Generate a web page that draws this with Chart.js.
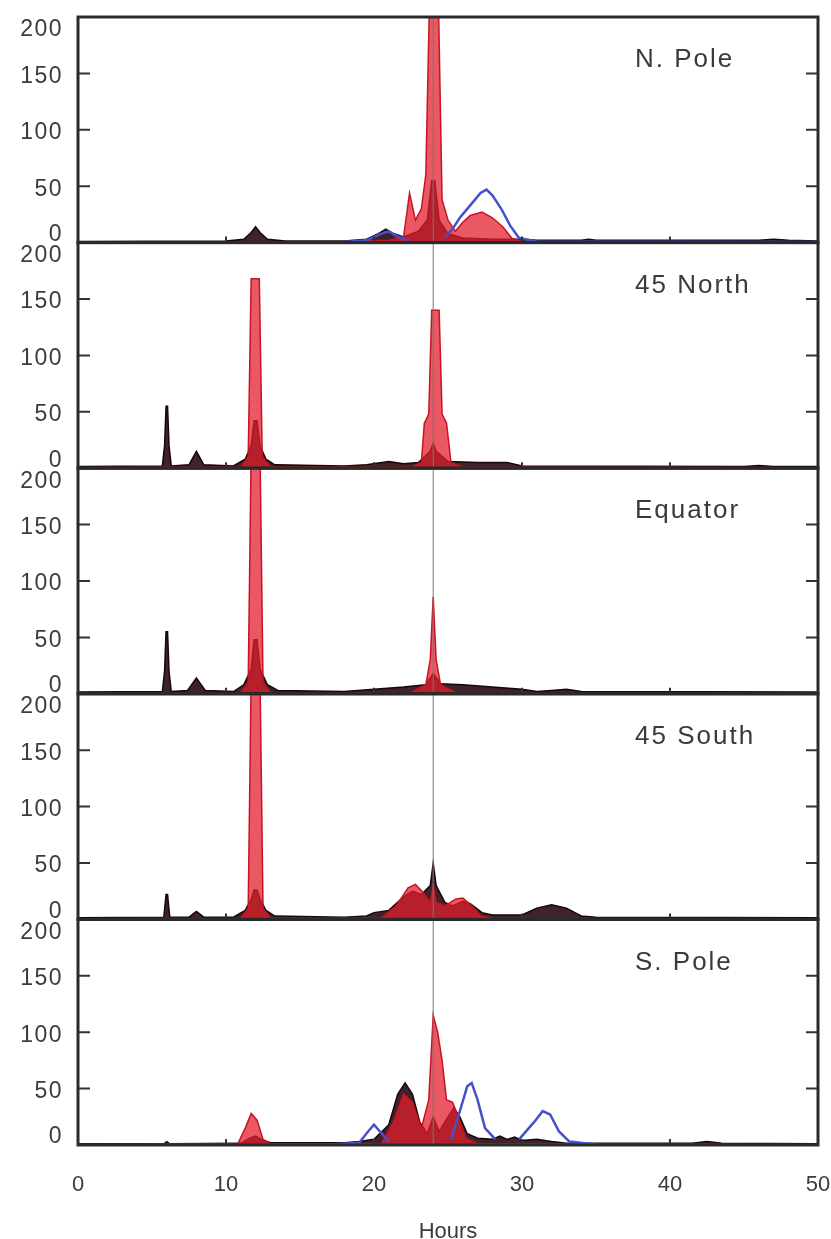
<!DOCTYPE html>
<html>
<head>
<meta charset="utf-8">
<script src="https://cdn.jsdelivr.net/npm/chart.js@4.4.0/dist/chart.umd.min.js"></script>
<style>
  body { margin: 0; background: #fff; width: 831px; height: 1239px; overflow: hidden; position: relative; }
  .panel { position: absolute; left: 0; }
</style>
</head>
<body>
<script>
// tick labels
const xTicks = [0, 10, 20, 30, 40, 50];
const yTicks = [0, 50, 100, 150, 200];
const markerHour = 24;
const panelNames = ['N. Pole', '45 North', 'Equator', '45 South', 'S. Pole'];

// [hour, value] pairs (null = gap in the outline)
const nPoleBlack = [[0,1],[10,1.5],[11.2,3],[11.7,9],[12,14],[12.3,9],[12.8,3],[14,1.5],[18,1.5],[19.5,3],[20.3,8],[20.8,12],[21.3,8],[22,5],[23,10],[23.6,20],[23.9,55],[24.1,55],[24.4,20],[25,8],[26,4],[28,3],[30,3],[31,2],[34,2],[34.5,3],[35,2],[46,2],[47,3],[48,2],[50,1.5]];
const nPoleRed = [[0,0.5],[18,1],[21,2],[22,5],[22.4,44],[22.8,20],[23.2,30],[23.5,60],[23.75,215],[24.35,215],[24.6,38],[25,20],[25.5,10],[26,18],[26.5,24],[27.3,27],[28,22],[28.7,14],[29.3,4],[30,1],[50,0.5]];
const nPoleBlue = [[18,0.5],[19.5,2],[20.5,8],[21,10],[21.5,6],[22.3,2],[23,null],[24.8,5],[25.3,12],[25.8,22],[26.5,33],[27.2,44],[27.6,47],[28,42],[28.6,30],[29.2,15],[29.8,4],[31,1],[50,0.5]];

const north45Black = [[0,1.5],[5.7,2],[5.85,20],[5.95,55],[6.05,55],[6.15,20],[6.3,2],[7.5,3],[8,15],[8.5,3],[10.5,2],[11.3,8],[11.7,20],[11.9,42],[12.1,42],[12.3,20],[12.7,8],[13.3,3],[18,2],[19.5,3],[21,6],[22,4],[23,5],[23.8,15],[24,22],[24.2,15],[25,6],[27,5],[29,5],[30,2],[45,1.5],[46,2.5],[47,1.5],[50,1.5]];
const north45Red = [[0,0.5],[11,1],[11.5,10],[11.7,168],[12.25,168],[12.45,10],[13,1],[22.5,1],[23.2,5],[23.4,40],[23.7,48],[23.9,140],[24.4,140],[24.6,48],[24.9,40],[25.2,5],[26,1],[50,0.5]];
const north45Blue = [];

const equatorBlack = [[0,1.5],[5.7,2],[5.85,20],[5.95,55],[6.05,55],[6.15,20],[6.3,2],[7.4,3],[8,14],[8.6,3],[10.5,2],[11.2,8],[11.7,22],[11.9,48],[12.1,48],[12.3,22],[12.8,8],[13.5,3],[18,2],[20,4],[22,6],[23.5,8],[24,18],[24.5,9],[26,8],[28,6],[30,4],[31,2],[32,3],[33,4],[34,2],[50,1.5]];
const equatorRed = [[0,0.5],[11,1],[11.5,10],[11.7,215],[12.3,215],[12.5,10],[13,1],[22.5,1],[23.5,8],[23.8,30],[24,86],[24.2,30],[24.5,8],[25.5,1],[50,0.5]];
const equatorBlue = [];

const south45Black = [[0,1.5],[5.8,2],[5.95,22],[6.05,22],[6.2,2],[7.5,2],[8,7],[8.5,2],[10.5,2],[11.3,8],[11.7,18],[11.9,26],[12.1,26],[12.3,18],[12.7,8],[13.3,3],[18,2],[19.5,3],[20,6],[21,8],[22,20],[22.6,25],[23.2,22],[23.8,30],[24,50],[24.2,30],[24.8,15],[25.3,12],[26,16],[26.5,14],[27.3,6],[28,4],[29,4],[30,4],[31,10],[32,13],[33,10],[34,3],[35,2],[50,1.5]];
const south45Red = [[0,0.5],[11,1],[11.5,10],[11.7,215],[12.3,215],[12.5,10],[13,1],[20.5,1],[21.5,12],[22.3,28],[22.8,31],[23.3,24],[23.8,15],[24,30],[24.2,15],[24.8,12],[25.5,18],[26,19],[26.6,12],[27.2,3],[28,1],[50,0.5]];
const south45Blue = [];

const sPoleBlack = [[0,1],[5.8,1],[6,3],[6.2,1],[11,1.5],[11.6,6],[12,8],[12.4,5],[13,2],[18,2],[19,3],[20,5],[21,18],[21.6,45],[22.1,55],[22.6,45],[23.1,20],[23.6,10],[24,25],[24.4,12],[25,25],[25.4,33],[25.8,25],[26.3,10],[27,6],[28,5],[28.5,8],[29,5],[29.5,7],[30,4],[31,5],[32,3],[33,1.5],[41.5,1.5],[42.5,3],[43.5,1.5],[50,1]];
const sPoleRed = [[0,0.5],[10.8,1],[11.3,15],[11.7,28],[12.1,22],[12.5,5],[13,1],[20.5,1],[21.3,20],[22,45],[22.6,38],[23.2,15],[23.7,40],[24,115],[24.3,100],[24.6,75],[24.9,40],[25.3,38],[25.7,25],[26.2,6],[27,1],[50,0.5]];
const sPoleBlue = [[17,0.5],[19,2],[19.6,12],[20,18],[20.4,12],[21,3],[23,null],[25.2,5],[25.8,30],[26.3,52],[26.6,55],[27,40],[27.5,15],[28.2,5],[29,null],[29.8,5],[30.8,20],[31.4,30],[31.9,27],[32.5,12],[33.2,3],[35,0.5]];

const panels = [
  [nPoleBlack, nPoleRed, nPoleBlue],
  [north45Black, north45Red, north45Blue],
  [equatorBlack, equatorRed, equatorBlue],
  [south45Black, south45Red, south45Blue],
  [sPoleBlack, sPoleRed, sPoleBlue]
];

const toPoints = arr => arr.map(p => ({x: p[0], y: p[1]}));

// frame, inward ticks, y labels and panel name
const framePlugin = {
  id: 'frame',
  afterDraw(chart, args, opts) {
    const {ctx, chartArea: a, scales: {x, y}} = chart;
    ctx.save();
    ctx.font = '23px "Liberation Sans", Arial, sans-serif';
    ctx.fillStyle = '#3c3c3c';
    ctx.textAlign = 'right';
    ctx.textBaseline = 'middle';
    ctx.letterSpacing = '1.5px';
    yTicks.forEach((v, i) => {
      let py = y.getPixelForValue(v);
      if (i === 0) py -= 8;
      else if (i === yTicks.length - 1) py += 13;
      else py += 3;
      ctx.fillText(String(v), a.left - 15, py);
    });

    ctx.strokeStyle = '#333';
    ctx.lineWidth = 2;
    ctx.beginPath();
    yTicks.slice(1, -1).forEach(v => {
      const py = y.getPixelForValue(v);
      ctx.moveTo(a.left, py); ctx.lineTo(a.left + 12, py);
      ctx.moveTo(a.right, py); ctx.lineTo(a.right - 12, py);
    });
    xTicks.slice(1, -1).forEach(v => {
      const px = x.getPixelForValue(v);
      ctx.moveTo(px, a.bottom); ctx.lineTo(px, a.bottom - 6);
    });
    ctx.stroke();

    ctx.lineWidth = 3;
    ctx.strokeStyle = '#2a2a2a';
    ctx.strokeRect(a.left, a.top, a.right - a.left, a.bottom - a.top);

    ctx.font = '26px "Liberation Sans", Arial, sans-serif';
    ctx.fillStyle = '#3a3a3a';
    ctx.textAlign = 'left';
    ctx.letterSpacing = '2px';
    ctx.fillText(opts.name, 635, a.top + 43);
    ctx.restore();
  }
};

const plotLeft = 78;
const plotRight = 818;
const firstTop = 17;
const panelHeight = 225.6;
const pageHeight = 1239;

panels.forEach((series, i) => {
  const last = i === panels.length - 1;
  const top = firstTop + i * panelHeight;
  const canvasTop = Math.floor(top) - 12;
  const padTop = top - canvasTop;
  const canvasHeight = last ? pageHeight - canvasTop : Math.ceil(panelHeight + 24);
  const axisHeight = last ? canvasHeight - padTop - panelHeight : 0;

  const div = document.createElement('div');
  div.className = 'panel';
  div.style.top = canvasTop + 'px';
  const canvas = document.createElement('canvas');
  canvas.width = 831;
  canvas.height = canvasHeight;
  div.appendChild(canvas);
  document.body.appendChild(div);

  const [black, red, blue] = series;

  new Chart(canvas, {
    type: 'line',
    data: {
      datasets: [
        {
          data: [{x: markerHour, y: yTicks[0]}, {x: markerHour, y: yTicks[yTicks.length - 1]}],
          borderColor: '#777',
          borderWidth: 1,
          pointRadius: 0,
          fill: false
        },
        {
          data: toPoints(blue),
          borderColor: 'rgb(70, 80, 200)',
          borderWidth: 2.5,
          pointRadius: 0,
          fill: false,
          spanGaps: false,
          tension: 0
        },
        {
          data: toPoints(red),
          borderColor: 'rgb(200, 20, 35)',
          backgroundColor: 'rgba(225, 30, 45, 0.74)',
          borderWidth: 1.5,
          pointRadius: 0,
          fill: 'origin',
          tension: 0
        },
        {
          data: toPoints(black),
          borderColor: '#1a0508',
          backgroundColor: 'rgba(35, 5, 12, 0.88)',
          borderWidth: 1.5,
          pointRadius: 0,
          fill: 'origin',
          tension: 0
        }
      ]
    },
    options: {
      responsive: false,
      animation: false,
      events: [],
      layout: {
        padding: {left: plotLeft, right: 831 - plotRight, top: padTop, bottom: last ? 0 : canvasHeight - padTop - panelHeight}
      },
      plugins: {
        legend: {display: false},
        tooltip: {enabled: false},
        frame: {name: panelNames[i]}
      },
      scales: {
        x: {
          type: 'linear',
          min: xTicks[0],
          max: xTicks[xTicks.length - 1],
          display: last,
          afterFit: s => {
            s.height = axisHeight;
            s.paddingLeft = 0;
            s.paddingRight = 0;
          },
          afterBuildTicks: s => { s.ticks = xTicks.map(v => ({value: v})); },
          grid: {display: false, drawTicks: false},
          border: {display: false},
          ticks: {
            padding: 27,
            color: '#3c3c3c',
            font: {family: '"Liberation Sans", Arial, sans-serif', size: 22}
          },
          title: {
            display: true,
            text: 'Hours',
            color: '#3c3c3c',
            padding: {top: 0, bottom: -6},
            font: {family: '"Liberation Sans", Arial, sans-serif', size: 22}
          }
        },
        y: {
          display: false,
          min: yTicks[0],
          max: yTicks[yTicks.length - 1]
        }
      }
    },
    plugins: [framePlugin]
  });
});
</script>
</body>
</html>
